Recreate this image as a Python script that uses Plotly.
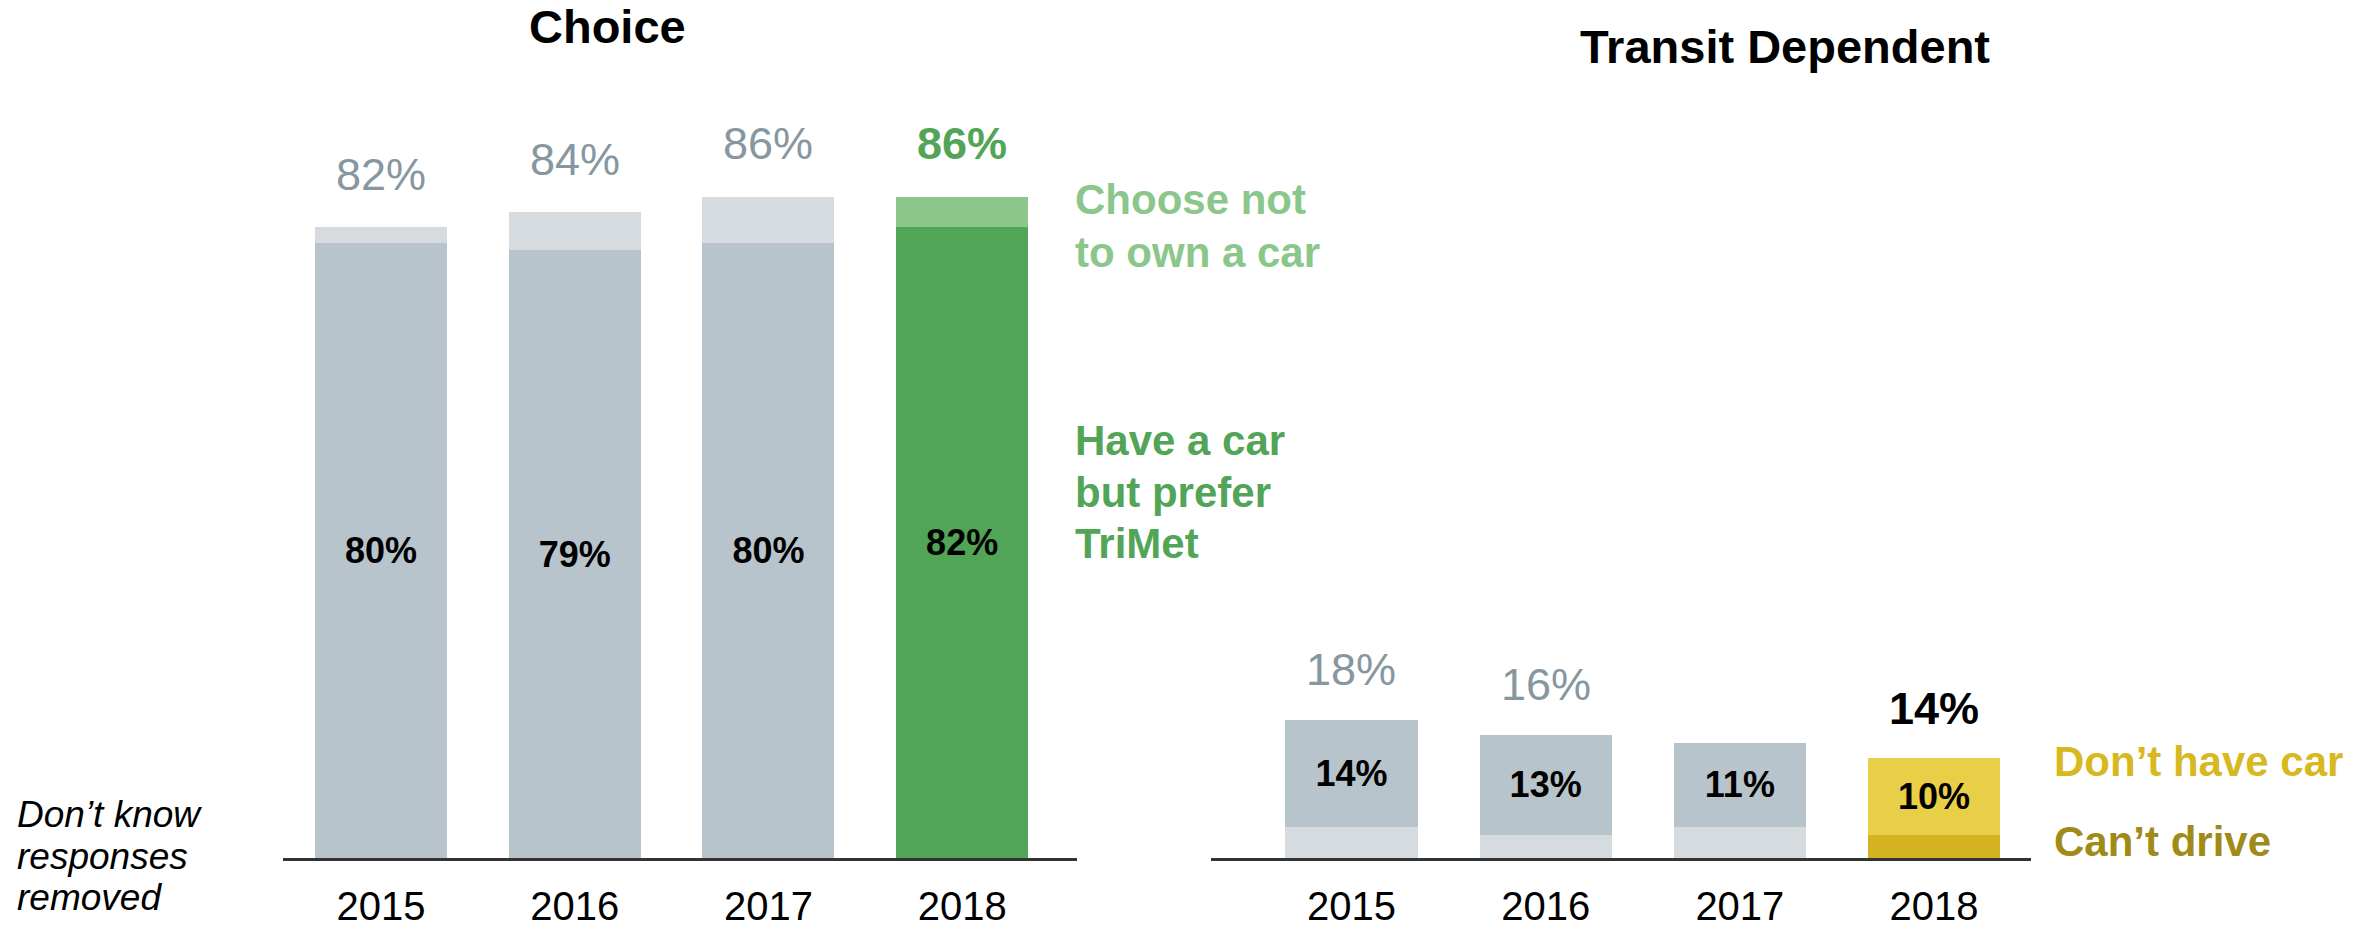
import plotly.graph_objects as go

# ---------------- data ----------------
years = ["2015", "2016", "2017", "2018"]

choice_prefer_trimet = [80, 79, 80, 82]        # "Have a car but prefer TriMet"
choice_no_car = [2, 5, 6, 4]                   # "Choose not to own a car"
choice_total_labels = ["82%", "84%", "86%", "86%"]
choice_inner_labels = ["80%", "79%", "80%", "82%"]

dep_cant_drive = [4, 3, 4, 3]                  # "Can't drive"
dep_no_car = [14, 13, 11, 10]                  # "Don't have car"
dep_total_labels = ["18%", "16%", "", "14%"]
dep_inner_labels = ["14%", "13%", "11%", "10%"]

# ---------------- style ----------------
W, H = 2379, 927
FONT = "Liberation Sans, Arial, Helvetica, sans-serif"
GRAY_DARK = "#B8C4CB"
GRAY_LIGHT = "#D5DBDF"
GRAY_TEXT = "#8797A2"
GREEN_DARK = "#52A456"
GREEN_LIGHT = "#8BC68A"
YELLOW = "#E9CE47"
YELLOW_DARK = "#D3B420"
YELLOW_TEXT = "#D8B81F"
OLIVE_TEXT = "#A08A18"


def px(x):
    return x / W


def py(y):
    return 1 - y / H


BAR_W = 0.681

fig = go.Figure()

# Left panel: Choice
fig.add_trace(go.Bar(
    x=years, y=choice_prefer_trimet, xaxis="x", yaxis="y", width=BAR_W,
    marker=dict(color=[GRAY_DARK, GRAY_DARK, GRAY_DARK, GREEN_DARK], line=dict(width=0)),
    text=choice_inner_labels, textposition="inside", insidetextanchor="middle",
    textangle=0, textfont=dict(family=FONT, size=36, color="black", weight="bold"),
    hoverinfo="skip", showlegend=False,
))
fig.add_trace(go.Bar(
    x=years, y=choice_no_car, xaxis="x", yaxis="y", width=BAR_W,
    marker=dict(color=[GRAY_LIGHT, GRAY_LIGHT, GRAY_LIGHT, GREEN_LIGHT], line=dict(width=0)),
    hoverinfo="skip", showlegend=False,
))

# Right panel: Transit Dependent
fig.add_trace(go.Bar(
    x=years, y=dep_cant_drive, xaxis="x2", yaxis="y2", width=BAR_W,
    marker=dict(color=[GRAY_LIGHT, GRAY_LIGHT, GRAY_LIGHT, YELLOW_DARK], line=dict(width=0)),
    hoverinfo="skip", showlegend=False,
))
fig.add_trace(go.Bar(
    x=years, y=dep_no_car, xaxis="x2", yaxis="y2", width=BAR_W,
    marker=dict(color=[GRAY_DARK, GRAY_DARK, GRAY_DARK, YELLOW], line=dict(width=0)),
    text=dep_inner_labels, textposition="inside", insidetextanchor="middle",
    textangle=0, textfont=dict(family=FONT, size=36, color="black", weight="bold"),
    hoverinfo="skip", showlegend=False,
))

annotations = []

# Totals above bars (x given as category index)
for i in range(len(years)):
    total = choice_prefer_trimet[i] + choice_no_car[i]
    last = i == len(years) - 1
    annotations.append(dict(
        x=i, y=total, xref="x", yref="y", text=choice_total_labels[i],
        showarrow=False, xanchor="center", yanchor="middle", yshift=53,
        font=dict(family=FONT, size=45, color=GREEN_DARK if last else GRAY_TEXT,
                  weight="bold" if last else "normal"),
    ))
for i in range(len(years)):
    if not dep_total_labels[i]:
        continue
    total = dep_cant_drive[i] + dep_no_car[i]
    last = i == len(years) - 1
    annotations.append(dict(
        x=i, y=total, xref="x2", yref="y2", text=dep_total_labels[i],
        showarrow=False, xanchor="center", yanchor="middle", yshift=50,
        font=dict(family=FONT, size=45, color="black" if last else GRAY_TEXT,
                  weight="bold" if last else "normal"),
    ))


def label(text, x, y, size, color, xanchor="left", weight="bold", style="normal"):
    annotations.append(dict(
        x=px(x), y=py(y), xref="paper", yref="paper", text=text, showarrow=False,
        xanchor=xanchor, yanchor="middle",
        font=dict(family=FONT, size=size, color=color, weight=weight, style=style),
    ))


# Titles
label("Choice", 607, 27, 47, "black", xanchor="center")
label("Transit Dependent", 1785, 46, 47, "black", xanchor="center")

# Series labels (left)
label("Choose not", 1073, 200, 42, GREEN_LIGHT)
label("to own a car", 1073, 252, 42, GREEN_LIGHT)
label("Have a car", 1073, 440, 42, GREEN_DARK)
label("but prefer", 1073, 492, 42, GREEN_DARK)
label("TriMet", 1073, 543, 42, GREEN_DARK)

# Series labels (right)
label("Don\u2019t have car", 2052, 761, 42, YELLOW_TEXT)
label("Can\u2019t drive", 2052, 841, 42, OLIVE_TEXT)

# Note
label("Don\u2019t know", 15, 814, 37, "black", weight="normal", style="italic")
label("responses", 15, 856, 37, "black", weight="normal", style="italic")
label("removed", 15, 897, 37, "black", weight="normal", style="italic")

base_px = 858
px_per_pct = 7.69
y_top_px = base_px - 100 * px_per_pct
y_domain = [py(base_px), py(y_top_px)]

xaxis_common = dict(
    type="category", showgrid=False, zeroline=False, showline=True, automargin=False,
    linecolor="#333333", linewidth=2.5, ticks="", ticklabelstandoff=11,
    tickfont=dict(family=FONT, size=40, color="black"), fixedrange=True,
)
yaxis_common = dict(range=[0, 100], domain=y_domain, visible=False, fixedrange=True,
                    automargin=False)

fig.update_layout(
    width=W, height=H, autosize=False,
    margin=dict(l=0, r=0, t=0, b=0, autoexpand=False),
    paper_bgcolor="white", plot_bgcolor="white",
    barmode="stack", showlegend=False,
    font=dict(family=FONT),
    xaxis=dict(domain=[px(283), px(1077)], range=[-0.506, 3.593], anchor="y", **xaxis_common),
    yaxis=dict(anchor="x", **yaxis_common),
    xaxis2=dict(domain=[px(1211), px(2031)], range=[-0.723, 3.499], anchor="y2", **xaxis_common),
    yaxis2=dict(anchor="x2", **yaxis_common),
    annotations=annotations,
)

fig.write_html("out.html", config={"displayModeBar": False},
               post_script="document.body.style.margin='0';document.body.style.overflow='hidden';")
